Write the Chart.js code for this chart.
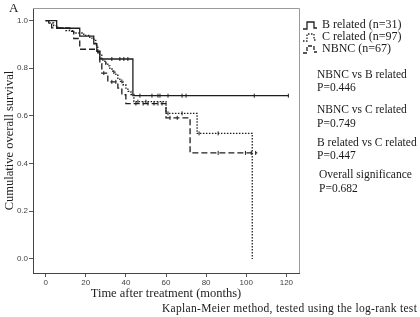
<!DOCTYPE html>
<html>
<head>
<meta charset="utf-8">
<script src="https://cdn.jsdelivr.net/npm/chart.js@4.4.1/dist/chart.umd.min.js"></script>
<style>
  body { margin: 0; background: #fff; }
  #wrap { position: relative; width: 420px; height: 317px; font-family: "Liberation Serif", "DejaVu Serif", serif; color: #1a1a1a; }
  #c { position: absolute; left: 0; top: 0; }
  .t { position: absolute; white-space: nowrap; font-size: 11.5px; line-height: 13px; }
  .leg { font-size: 12px; }
  .leg svg { position: absolute; left: -20px; top: 1px; }
</style>
</head>
<body>
<div id="wrap">
  <canvas id="c" width="420" height="317"></canvas>
  <div class="t" style="left:9px;top:1px;font-size:13px;">A</div>

  <div class="t leg" style="left:322px;top:18px;"><svg width="18" height="12"><path d="M1 10 H5 V3 H12 V9 H15" fill="none" stroke="#222" stroke-width="1.3"/></svg>B related (n=31)</div>
  <div class="t leg" style="left:322px;top:30px;"><svg width="18" height="12"><path d="M1 10 H5 V3 H12 V9 H15" fill="none" stroke="#222" stroke-width="1.3" stroke-dasharray="1.5 1.5"/></svg>C related (n=97)</div>
  <div class="t leg" style="left:322px;top:42px;"><svg width="18" height="12"><path d="M1 10 H5 V3 H12 V9 H15" fill="none" stroke="#222" stroke-width="1.3" stroke-dasharray="4 2"/></svg>NBNC (n=67)</div>

  <div class="t" style="left:317px;top:68px;">NBNC vs B related</div>
  <div class="t" style="left:317px;top:81px;">P=0.446</div>
  <div class="t" style="left:317px;top:103px;">NBNC vs C related</div>
  <div class="t" style="left:317px;top:117px;">P=0.749</div>
  <div class="t" style="left:317px;top:136px;">B related vs C related</div>
  <div class="t" style="left:317px;top:149px;">P=0.447</div>
  <div class="t" style="left:319px;top:168px;">Overall significance</div>
  <div class="t" style="left:319px;top:182px;">P=0.682</div>

  <div class="t" style="left:162px;top:302px;font-size:11.5px;letter-spacing:0.3px;">Kaplan-Meier method, tested using the log-rank test</div>
</div>
<script>
// Kaplan-Meier step data (months, cumulative survival)
const bTimes = [0, 5.5, 17, 24, 25.5, 27, 43.5, 121];
const bSurv  = [1.0, 0.968, 0.935, 0.903, 0.871, 0.839, 0.685, 0.685];
const bCensor = [33, 37, 39, 41, 47, 53, 56, 57, 61, 68, 70, 104, 121];

const cTimes = [0, 2, 4, 6, 10, 14, 19, 22, 24, 25, 26, 27, 28, 29.5, 31, 32, 33.5, 35, 36, 37, 38.5, 40, 41, 42.5, 44, 60, 75.5, 103];
const cSurv  = [1.0, 0.99, 0.979, 0.969, 0.958, 0.948, 0.938, 0.927, 0.917, 0.896, 0.875, 0.855, 0.834, 0.822, 0.81, 0.797, 0.784, 0.771, 0.758, 0.745, 0.731, 0.717, 0.703, 0.69, 0.66, 0.611, 0.527, 0.0];
const cCensor = [30, 34, 38, 46, 50, 61, 68, 76.5, 86];

const nTimes = [0, 1.5, 3, 12, 14, 17, 26, 27, 28, 31, 36, 38, 40, 60, 72, 105.5];
const nSurv  = [1.0, 0.985, 0.97, 0.955, 0.925, 0.88, 0.865, 0.82, 0.78, 0.743, 0.717, 0.689, 0.652, 0.592, 0.445, 0.445];
const nCensor = [29, 33, 35, 45, 48.6, 51, 54, 56, 58, 62, 65.6, 86, 99.6, 102.5, 104.7];

const xTicks = [0, 20, 40, 60, 80, 100, 120];
const yTicks = [0.0, 0.2, 0.4, 0.6, 0.8, 1.0];

const ink = "#1e1e1e";

function steps(times, surv) {
    return times.map((t, i) => ({ x: t, y: surv[i] }));
}
function survAt(times, surv, t) {
    let s = surv[0];
    for (let i = 0; i < times.length; i++) {
        if (times[i] <= t) s = surv[i];
    }
    return s;
}
function censors(list, times, surv) {
    return list.map(t => ({ x: t, y: survAt(times, surv, t) }));
}
function curve(data, dash) {
    return {
        type: "line",
        data: data,
        stepped: "before",
        borderColor: ink,
        borderWidth: 1.3,
        borderDash: dash,
        pointRadius: 0,
        fill: false,
    };
}
function marks(data) {
    return {
        type: "scatter",
        data: data,
        pointStyle: "line",
        rotation: 90,
        pointRadius: 2,
        borderColor: ink,
        borderWidth: 1,
        backgroundColor: ink,
    };
}

const frame = {
    id: "frame",
    afterDraw(chart) {
        const { ctx, chartArea: a } = chart;
        ctx.save();
        ctx.lineWidth = 1;
        ctx.strokeStyle = "#9a9a9a";
        ctx.beginPath();
        ctx.moveTo(a.left, a.top + 0.5);
        ctx.lineTo(a.right + 0.5, a.top + 0.5);
        ctx.lineTo(a.right + 0.5, a.bottom);
        ctx.stroke();
        ctx.restore();
    },
};

new Chart(document.getElementById("c").getContext("2d"), {
    data: {
        datasets: [
            curve(steps(nTimes, nSurv), [6, 3]),
            marks(censors(nCensor, nTimes, nSurv)),
            curve(steps(cTimes, cSurv), [1.5, 1.5]),
            marks(censors(cCensor, cTimes, cSurv)),
            curve(steps(bTimes, bSurv), []),
            marks(censors(bCensor, bTimes, bSurv)),
        ],
    },
    options: {
        responsive: false,
        devicePixelRatio: 1,
        animation: false,
        events: [],
        layout: {
            padding: { left: 0, top: 8, right: 121, bottom: 16 },
        },
        plugins: {
            legend: { display: false },
            tooltip: { enabled: false },
        },
        scales: {
            x: {
                type: "linear",
                min: -6.3,
                max: 126.3,
                afterBuildTicks: s => { s.ticks = xTicks.map(v => ({ value: v })); },
                afterFit: s => { s.height = 28; },
                ticks: {
                    font: { family: "Liberation Sans", size: 8 },
                    color: "#444",
                    padding: 1,
                    maxRotation: 0,
                },
                grid: { drawOnChartArea: false, tickLength: 4, color: "#555" },
                border: { color: "#444", width: 1 },
                title: {
                    display: true,
                    text: "Time after treatment (months)",
                    font: { family: "Liberation Serif", size: 12.5 },
                    color: ink,
                    padding: { top: 0, bottom: 0 },
                },
            },
            y: {
                type: "linear",
                min: -0.059,
                max: 1.053,
                afterBuildTicks: s => { s.ticks = yTicks.map(v => ({ value: v })); },
                afterFit: s => { s.width = 33; },
                ticks: {
                    font: { family: "Liberation Sans", size: 8 },
                    color: "#444",
                    padding: 1,
                    callback: v => v.toFixed(1),
                },
                grid: { drawOnChartArea: false, tickLength: 4, color: "#555" },
                border: { color: "#444", width: 1 },
                title: {
                    display: true,
                    text: "Cumulative overall survival",
                    font: { family: "Liberation Serif", size: 12.5 },
                    color: ink,
                    padding: { top: 2, bottom: 0 },
                },
            },
        },
    },
    plugins: [frame],
});
</script>
</body>
</html>
